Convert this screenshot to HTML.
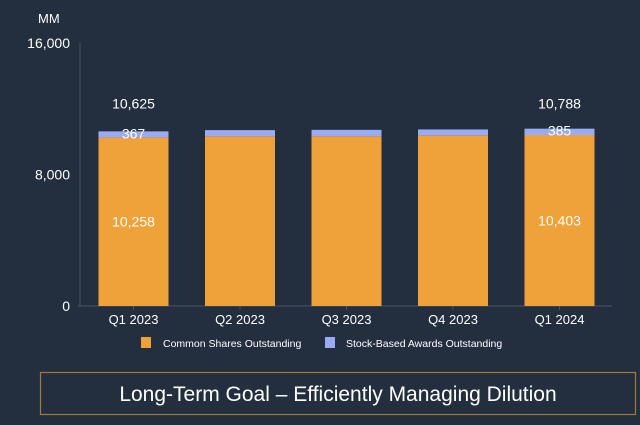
<!DOCTYPE html>
<html><head><meta charset="utf-8"><style>
body{margin:0;background:#232f3e;}
svg text{font-family:"Liberation Sans",sans-serif;}
</style></head><body>
<svg width="640" height="420" xmlns="http://www.w3.org/2000/svg">
<rect width="640" height="420" fill="#232f3e"/>
<g id="chart"></g>
<rect x="40.5" y="372.5" width="595" height="42" fill="none" stroke="#a47a3c" stroke-width="1.2"/>
<text x="338" y="401" text-anchor="middle" fill="#ffffff" font-size="21">Long-Term Goal – Efficiently Managing Dilution</text>
</svg>
<script>
const categories=["Q1 2023","Q2 2023","Q3 2023","Q4 2023","Q1 2024"];
const commonShares=[10258,10330,10334,10383,10403];
const stockAwards=[367,370,382,360,385];
const yTicks=[0,8000,16000];
const totalLabels=["10,625","","","","10,788"];
const commonLabels=["10,258","","","","10,403"];
const awardLabels=["367","","","","385"];
const NS="http://www.w3.org/2000/svg";
const g=document.getElementById('chart');
const y0=306,yTop=43,yMax=16000;
function y(v){return y0-(v/yMax)*(y0-yTop);}
function xc(i){return 133.5+i*106.5;}
function mk(tag,attrs,txt){const e=document.createElementNS(NS,tag);for(const k in attrs)e.setAttribute(k,attrs[k]);if(txt!==undefined)e.textContent=txt;g.appendChild(e);return e;}
let e=mk('line',{x1:80,y1:43,x2:80,y2:y0,stroke:'#4a5566','stroke-width':1});


e=mk('line',{x1:78,y1:y0,x2:612,y2:y0,stroke:'#4a5566','stroke-width':1});


e=mk('text',{x:38,y:23,fill:'#fff','font-size':13},'MM');


yTicks.forEach(t=>{
  const el=mk('text',{x:70,y:y(t)+5,fill:'#fff','font-size':14,'text-anchor':'end'},t.toLocaleString('en-US'));
  
  
});
const maxTotal=Math.max(...commonShares.map((v,i)=>v+stockAwards[i]));
categories.forEach((c,i)=>{
  const x=xc(i)-35;
  const top=commonShares[i]+stockAwards[i];
  let r=mk('rect',{x:x,y:y(commonShares[i]),width:70,height:y0-y(commonShares[i]),fill:'#f0a23a'});
  
  
  r=mk('rect',{x:x,y:y(top),width:70,height:y(commonShares[i])-y(top),fill:'#9aabf5'});
  
  
  let t=mk('line',{x1:xc(i),y1:y0,x2:xc(i),y2:y0+4,stroke:'#4a5566'});
  
  
  t=mk('text',{x:xc(i),y:y0+18,fill:'#fff','font-size':13,'text-anchor':'middle'},c);
  
  
  if(totalLabels[i]){
    t=mk('text',{x:xc(i),y:y(maxTotal)-20,fill:'#fff','font-size':14,'text-anchor':'middle'},totalLabels[i]);
    
    
  }
  if(awardLabels[i]){
    t=mk('text',{x:xc(i),y:y(top)+7,fill:'#fff','font-size':14,'text-anchor':'middle'},awardLabels[i]);
    
    
  }
  if(commonLabels[i]){
    t=mk('text',{x:xc(i),y:y(commonShares[i]/2)+5,fill:'#fff','font-size':14,'text-anchor':'middle'},commonLabels[i]);
    
    
  }
});
let l=mk('rect',{x:141,y:337,width:10,height:11,fill:'#f0a23a'});


l=mk('text',{x:163,y:347,fill:'#fff','font-size':10.5},'Common Shares Outstanding');


l=mk('rect',{x:325,y:337,width:10,height:11,fill:'#9aabf5'});


l=mk('text',{x:346,y:347,fill:'#fff','font-size':10.5},'Stock-Based Awards Outstanding');


</script>
</body></html>
